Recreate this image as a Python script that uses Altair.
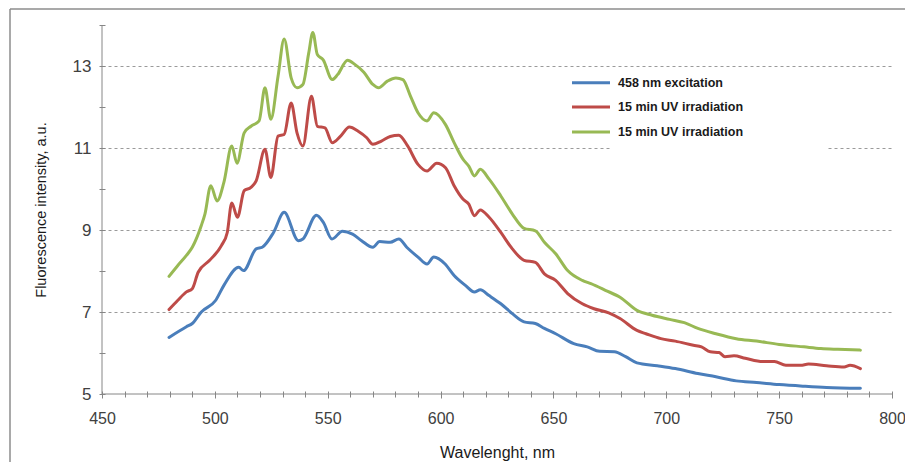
import altair as alt
import pandas as pd

# ---------------- data ----------------
blue_nm = [479.7, 487.4, 490, 494, 500.3, 504, 510.6, 512.7, 518.3, 521, 526, 530.7, 537, 539, 545, 548,
           551.9, 556.5, 561, 565, 570, 573, 577.7, 581.5, 585, 590, 594, 597, 602, 606, 611, 615, 617.6,
           621.5, 626.7, 631.8, 637, 642, 646, 651, 659, 665, 670.5, 677, 682, 687, 696, 704, 714, 722,
           731, 740, 750, 761, 771, 786]
blue_val = [6.38, 6.64, 6.72, 7.0, 7.28, 7.65, 8.09, 8.01, 8.54, 8.58, 8.94, 9.43, 8.74, 8.78, 9.36, 9.19,
            8.78, 8.97, 8.90, 8.74, 8.58, 8.72, 8.70, 8.78, 8.58, 8.34, 8.17, 8.34, 8.17, 7.89, 7.65, 7.49, 7.54,
            7.40, 7.20, 6.96, 6.76, 6.72, 6.60, 6.47, 6.23, 6.15, 6.04, 6.03, 5.91, 5.76, 5.69, 5.62, 5.50, 5.42,
            5.32, 5.28, 5.23, 5.19, 5.16, 5.14]

red_nm = [479.7, 483.5, 487.4, 490, 492.6, 497.7, 502.9, 505.5, 507.5, 510, 513, 516, 518.3, 522.2, 524.8,
          528, 530.7, 533.8, 536.4, 539, 542.8, 545.4, 548.8, 552, 555.7, 559.6, 563.5, 567.3, 570, 573.8,
          577.7, 581.5, 585.4, 590, 594, 598.3, 602.2, 606, 610, 612.5, 615, 617.6, 621.5, 626.7, 631.8, 637,
          642, 646, 651, 656.3, 662.8, 668, 674.5, 679.5, 687, 691, 697.6, 704, 712, 715.6, 719.5, 723.4,
          726, 730, 735, 742.7, 747.9, 753, 759.5, 763, 771, 778.8, 781.4, 786]
red_val = [7.06, 7.28, 7.49, 7.57, 7.97, 8.26, 8.62, 8.94, 9.66, 9.31, 9.96, 10.04, 10.20, 10.97, 10.28,
           11.29, 11.33, 12.10, 11.37, 11.05, 12.26, 11.53, 11.49, 11.13, 11.29, 11.51, 11.41, 11.25, 11.09, 11.17,
           11.28, 11.31, 11.05, 10.60, 10.44, 10.63, 10.52, 10.08, 9.75, 9.63, 9.35, 9.49, 9.31, 8.94, 8.54, 8.26,
           8.21, 7.93, 7.77, 7.45, 7.20, 7.08, 6.98, 6.84, 6.55, 6.47, 6.35, 6.29, 6.19, 6.15, 6.03, 6.01,
           5.91, 5.93, 5.87, 5.79, 5.79, 5.70, 5.70, 5.73, 5.69, 5.66, 5.70, 5.62]

green_nm = [479.7, 483.5, 487.4, 490, 494, 495.6, 498.2, 501, 504, 507.5, 509.8, 513, 516, 519.6, 522.2,
            524.8, 528, 530.7, 533.8, 536.4, 539, 541.6, 543.4, 545.4, 548, 552, 554.4, 558.8, 562, 566, 570,
            572.5, 576.4, 580.2, 583.3, 586.7, 590, 594, 597, 602.2, 606, 610, 612.5, 615, 617.6, 621.5, 626.7,
            631.8, 637, 642, 646, 651, 656.3, 662.8, 666.6, 673, 679.5, 687, 693.7, 701.5, 708, 714, 722, 731,
            740, 750, 761, 768.5, 776, 786]
green_val = [7.87, 8.13, 8.38, 8.58, 9.11, 9.39, 10.08, 9.71, 10.16, 11.05, 10.63, 11.37, 11.53, 11.66, 12.47,
             11.70, 12.75, 13.66, 12.71, 12.47, 12.55, 13.32, 13.82, 13.28, 13.15, 12.67, 12.79, 13.14, 13.04, 12.85,
             12.55, 12.47, 12.63, 12.71, 12.67, 12.26, 11.86, 11.66, 11.86, 11.57, 11.13, 10.72, 10.56, 10.32, 10.48,
             10.24, 9.83, 9.39, 9.04, 8.98, 8.70, 8.42, 8.01, 7.77, 7.69, 7.53, 7.36, 7.04, 6.92, 6.82, 6.74, 6.60,
             6.47, 6.35, 6.29, 6.21, 6.15, 6.11, 6.09, 6.07]

series_ids = ["s1", "s2", "s3"]
series_labels = ["458 nm excitation", "15 min UV irradiation", "15 min UV irradiation"]
series_colors = ["#4A7EBB", "#BE4B48", "#98B954"]

x_ticks = list(range(450, 801, 10))
y_ticks = [v / 2 for v in range(10, 29)]

# ---------------- build table ----------------
rows = []
for sid, xs, ys in zip(series_ids, [blue_nm, red_nm, green_nm], [blue_val, red_val, green_val]):
    for x, y in zip(xs, ys):
        rows.append({"series": sid, "nm": x, "val": y})
df = pd.DataFrame(rows)

W, H = 790, 369
LABEL_FONT = "Liberation Sans, Arial, sans-serif"
AX_COLOR = "#868686"

x_enc = alt.X(
    "nm:Q",
    scale=alt.Scale(domain=[450, 800], nice=False, zero=False),
    axis=alt.Axis(
        values=x_ticks, domain=False, grid=False, offset=-3, format="d",
        tickColor=AX_COLOR, tickWidth=1,
        tickSize={"condition": {"test": "datum.value % 50 == 0", "value": 7}, "value": 6},
        labelExpr="datum.value % 50 == 0 ? datum.label : ''",
        labelFont=LABEL_FONT, labelFontSize=16, labelColor="#404040", labelPadding=12,
        labelFlush=False, labelOverlap=False,
        title="Wavelenght, nm", titleFont="Liberation Sans, Arial, sans-serif", titleFontSize=16,
        titleFontWeight="normal", titleColor="#1a1a1a", titleY=61, titleBaseline="middle",
    ),
)
y_enc = alt.Y(
    "val:Q",
    scale=alt.Scale(domain=[5, 14], nice=False, zero=False),
    axis=alt.Axis(
        values=y_ticks, domain=False, offset=-3, format="d",
        tickColor=AX_COLOR, tickWidth=1, tickSize=6,
        grid=True, gridColor="#9a9a9a", gridDash=[3, 3], gridWidth=1,
        gridOpacity={"condition": {"test": "datum.value % 2 == 1 && datum.value > 6", "value": 1}, "value": 0},
        labelExpr="datum.value % 2 == 1 ? datum.label : ''",
        labelFont=LABEL_FONT, labelFontSize=17, labelColor="#404040", labelPadding=8,
        labelOverlap=False,
        title="Fluorescence intensity, a.u.", titleFont="Liberation Sans, Arial, sans-serif",
        titleFontSize=14.5, titleFontWeight="normal", titleColor="#1a1a1a",
        titleAngle=-90, titleX=-64, titleY=H / 2, titleAlign="center", titleBaseline="middle",
    ),
)

lines = alt.Chart(df).mark_line(interpolate="monotone", strokeWidth=3, strokeCap="round").encode(
    x=x_enc,
    y=y_enc,
    color=alt.Color("series:N", scale=alt.Scale(domain=series_ids, range=series_colors), legend=None),
)

base = alt.Chart(pd.DataFrame({"a": [0]}))

# axis lines
axis_lines = [
    base.mark_rule(color=AX_COLOR, strokeWidth=1).encode(x=alt.value(0), y=alt.value(0), y2=alt.value(H)),
    base.mark_rule(color=AX_COLOR, strokeWidth=1).encode(x=alt.value(0), x2=alt.value(W), y=alt.value(H)),
]

# outer frame (left and top edges)
frame = [
    base.mark_rule(color="#8c8c8c", strokeWidth=1.5).encode(x=alt.value(-92), y=alt.value(-16), y2=alt.value(470)),
    base.mark_rule(color="#8c8c8c", strokeWidth=1.5).encode(x=alt.value(-92), x2=alt.value(830), y=alt.value(-16)),
]

# legend box and entries
legend_box = base.mark_rect(fill="white", stroke=None).encode(
    x=alt.value(510), x2=alt.value(725), y=alt.value(47), y2=alt.value(131)
)
legend_layers = []
legend_y = [57.7, 82, 107]
for lab, col, ly in zip(series_labels, series_colors, legend_y):
    legend_layers.append(
        base.mark_rule(color=col, strokeWidth=3).encode(x=alt.value(470), x2=alt.value(508), y=alt.value(ly))
    )
    legend_layers.append(
        base.mark_text(text=lab, align="left", baseline="middle", font="Liberation Sans, Arial, sans-serif",
                       fontSize=12.5, fontWeight="bold", color="#1a1a1a").encode(x=alt.value(516), y=alt.value(ly))
    )

chart = alt.layer(
    lines, *axis_lines, legend_box, *legend_layers, *frame
).properties(
    width=W, height=H,
    autosize=alt.AutoSizeParams(type="none"),
    padding={"left": 94, "top": 17, "right": 13, "bottom": 68},
).configure_view(strokeWidth=0)

chart.save("out.html", embed_options={"renderer": "svg", "actions": False})
